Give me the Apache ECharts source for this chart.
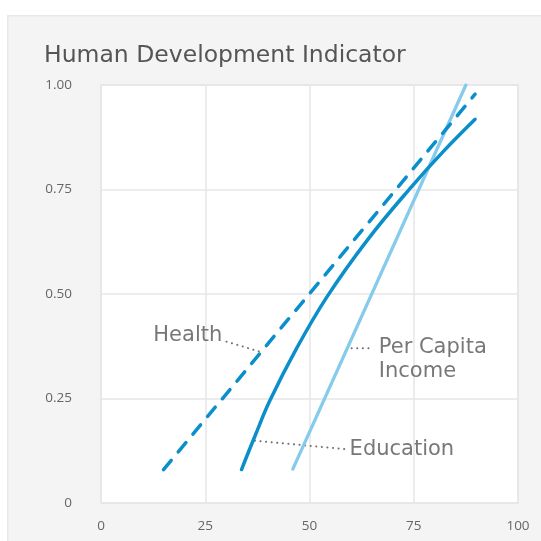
<!DOCTYPE html>
<html>
<head>
<meta charset="utf-8">
<script src="https://cdn.jsdelivr.net/npm/echarts@6/dist/echarts.min.js"></script>
<style>html,body{margin:0;padding:0;background:#fff}#c{width:541px;height:541px}</style>
</head>
<body>
<div id="c"></div>
<script>
// ---- data ----
var titleText = 'Human Development Indicator';
var xTicks = [0, 25, 50, 75, 100];
var yTicks = [0, 0.25, 0.5, 0.75, 1.0];
var health = [[15, 0.08], [89.7, 0.978]];
var education = [[33.7, 0.08], [37, 0.162], [40.5, 0.245], [46.9, 0.37], [54.3, 0.495], [64.1, 0.632], [74.5, 0.757], [82, 0.84], [89.7, 0.918]];
var perCapita = [[46, 0.081], [87.5, 1.0]];
var healthLeader = [[30.1, 0.386], [38.1, 0.362]];
var incomeLeader = [[60.1, 0.370], [65.3, 0.370]];
var educationLeader = [[36.9, 0.149], [58.5, 0.129]];
var labelTexts = ['Health', 'Per Capita\nIncome', 'Education'];
var labelAnchors = [[29.2, 0.40], [66.5, 0.342], [59.5, 0.129]];

var dark = '#0a8fca', light = '#86cbeb', txt = '#555555';
var chart = echarts.init(document.getElementById('c'), null, {renderer: 'canvas'});
function leader(d) {
  return {type: 'line', data: d, symbol: 'none', silent: true, z: 1,
    lineStyle: {color: '#6f6f6f', width: 2, type: [0.1, 5.5], cap: 'round'}};
}
chart.setOption({
  animation: false,
  backgroundColor: '#ffffff',
  graphic: [{type: 'rect', z: -10, left: 7, top: 15, shape: {width: 540, height: 530},
    style: {fill: '#f4f4f4', stroke: '#e8e8e8', lineWidth: 1.5}}],
  title: {text: titleText, left: 39, top: 39,
    textStyle: {fontFamily: 'DejaVu Sans', fontSize: 23.5, fontWeight: 'normal', color: txt}},
  grid: {left: 101, right: 23, top: 85, bottom: 38, show: true, backgroundColor: '#ffffff',
    borderColor: '#e6e6e6', borderWidth: 1.5},
  xAxis: {type: 'value', min: 0, max: 100, interval: 25,
    axisLine: {show: false}, axisTick: {show: false},
    splitLine: {lineStyle: {color: '#e6e6e6', width: 1.5}},
    axisLabel: {margin: 16, color: '#666', fontFamily: 'Open Sans', fontSize: 13.5,
      formatter: function (v) { return xTicks.indexOf(v) >= 0 ? String(v) : ''; }}},
  yAxis: {type: 'value', min: 0, max: 1, interval: 0.25,
    axisLine: {show: false}, axisTick: {show: false},
    splitLine: {lineStyle: {color: '#e6e6e6', width: 1.5}},
    axisLabel: {margin: 29, color: '#666', fontFamily: 'Open Sans', fontSize: 13.5,
      formatter: function (v) { return v === 0 ? '0' : v.toFixed(2); }}},
  series: [
    leader(healthLeader), leader(incomeLeader), leader(educationLeader),
    {type: 'line', data: perCapita, symbol: 'none', z: 3,
      lineStyle: {color: light, width: 3.3, cap: 'round'}},
    {type: 'line', data: education, symbol: 'none', smooth: 0.4, z: 4,
      lineStyle: {color: dark, width: 3.5, cap: 'round'}},
    {type: 'line', data: health, symbol: 'none', z: 5,
      lineStyle: {color: dark, width: 3.5, type: [12, 11], cap: 'round'}},
    {type: 'scatter', symbolSize: 1, itemStyle: {color: 'rgba(0,0,0,0)'}, silent: true, z: 6,
      data: labelAnchors.map(function (p, i) {
        return {value: p, label: {show: true, formatter: labelTexts[i],
          position: i === 0 ? 'left' : 'right', distance: 0,
          align: i === 0 ? 'right' : 'left',
          color: txt, fontFamily: 'DejaVu Sans', fontSize: 21, lineHeight: 24}};
      })}
  ]
});
</script>
</body>
</html>
